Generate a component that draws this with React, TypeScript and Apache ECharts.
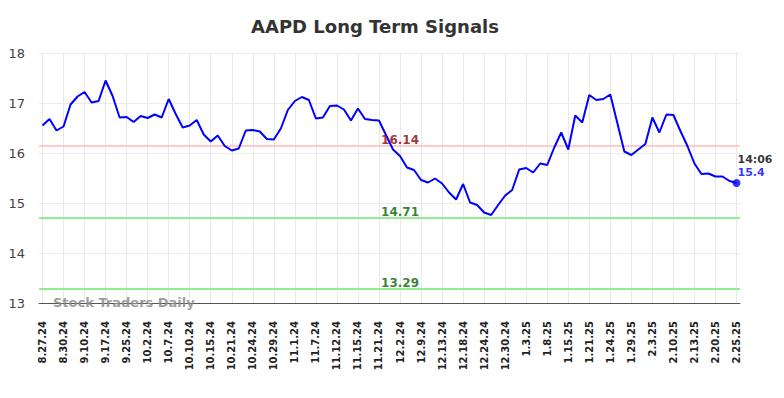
import React, { useEffect, useRef } from "react";
import * as echarts from "echarts";

const tickLabels = [
  "8.27.24", "8.30.24", "9.10.24", "9.17.24", "9.25.24", "10.2.24", "10.7.24",
  "10.10.24", "10.15.24", "10.21.24", "10.24.24", "10.29.24", "11.1.24", "11.7.24",
  "11.12.24", "11.15.24", "11.21.24", "12.2.24", "12.9.24", "12.13.24", "12.18.24",
  "12.24.24", "12.30.24", "1.3.25", "1.8.25", "1.15.25", "1.21.25", "1.24.25",
  "1.29.25", "2.3.25", "2.10.25", "2.13.25", "2.20.25", "2.25.25",
];

const prices = [
  16.55, 16.68, 16.45, 16.53, 16.97, 17.13, 17.22, 17.01, 17.04, 17.45,
  17.14, 16.71, 16.72, 16.62, 16.74, 16.70, 16.77, 16.71, 17.08, 16.78,
  16.51, 16.55, 16.66, 16.37, 16.23, 16.35, 16.14, 16.05, 16.09, 16.45,
  16.46, 16.43, 16.28, 16.27, 16.49, 16.86, 17.04, 17.12, 17.06, 16.69,
  16.71, 16.94, 16.95, 16.87, 16.65, 16.89, 16.68, 16.66, 16.65, 16.36,
  16.07, 15.94, 15.71, 15.66, 15.46, 15.41, 15.49, 15.39, 15.21, 15.07,
  15.38, 15.01, 14.96, 14.81, 14.76, 14.96, 15.15, 15.26, 15.67, 15.70,
  15.61, 15.79, 15.76, 16.11, 16.41, 16.07, 16.75, 16.61, 17.16, 17.06,
  17.08, 17.17, 16.60, 16.03, 15.96, 16.07, 16.18, 16.71, 16.41, 16.77,
  16.76, 16.44, 16.14, 15.79, 15.58, 15.59, 15.53, 15.53, 15.44, 15.40,
];

const resistance = [16.14];
const supports = [14.71, 13.29];
const lastTime = "14:06";
const yTicks = [13, 14, 15, 16, 17, 18];

export default function App() {
  const ref = useRef<HTMLDivElement>(null);

  useEffect(() => {
    if (!ref.current) return;
    const chart = echarts.init(ref.current, null, { renderer: "svg" });

    const categories = prices.map((_, i) =>
      i % 3 === 0 ? tickLabels[i / 3] : `${tickLabels[Math.floor(i / 3)]}_${i % 3}`
    );
    const lastIdx = prices.length - 1;
    const lastVal = prices[lastIdx];
    const labelIdx = 51;

    const levels = [
      ...resistance.map((v) => ({ v, line: "#ffcccc", text: "#8b0000" })),
      ...supports.map((v) => ({ v, line: "#90ee90", text: "#006400" })),
    ];

    const option: any = {
      animation: false,
      grid: { left: 39, right: 44, top: 53, bottom: 95, containLabel: false },
      graphic: [
        {
          type: "text",
          x: 375,
          y: 26,
          style: {
            text: "AAPD Long Term Signals",
            fontFamily: "DejaVu Sans",
            fontSize: 18,
            fontWeight: "bold",
            fill: "#333",
            textAlign: "center",
            textVerticalAlign: "middle",
          },
        },
        {
          type: "text",
          x: 53,
          y: 302,
          z: 10,
          style: {
            text: "Stock Traders Daily",
            fontFamily: "DejaVu Sans",
            fontSize: 13,
            fontWeight: "bold",
            fill: "rgba(140,140,140,0.85)",
            textAlign: "left",
            textVerticalAlign: "middle",
          },
        },
      ],
      xAxis: {
        type: "category",
        data: categories,
        boundaryGap: true,
        axisLine: { show: true, lineStyle: { color: "#555", width: 1 } },
        axisTick: { show: false, interval: 2, alignWithLabel: true },
        axisLabel: {
          interval: 2,
          rotate: 90,
          margin: 18,
          fontSize: 10,
          fontWeight: "bold",
          fontFamily: "DejaVu Sans",
          color: "#222",
          formatter: (v: string) => (v.includes("_") ? "" : v),
        },
        splitLine: {
          show: true,
          interval: 2,
          alignWithLabel: true,
          lineStyle: { color: "#e8e8e8", width: 1 },
        },
      },
      yAxis: {
        type: "value",
        min: yTicks[0],
        max: yTicks[yTicks.length - 1],
        interval: 1,
        axisLine: { show: false },
        axisTick: { show: false },
        axisLabel: {
          margin: 14,
          fontSize: 13,
          fontFamily: "DejaVu Sans",
          color: "#444",
        },
        splitLine: { show: true, lineStyle: { color: "#ebebeb", width: 1 } },
      },
      series: [
        {
          type: "line",
          data: prices,
          symbol: "none",
          lineStyle: { color: "#0000ff", width: 2 },
          itemStyle: { color: "#0000ff" },
          z: 5,
          markLine: {
            silent: true,
            symbol: "none",
            label: { show: false },
            z: 2,
            data: levels.map((l) => ({
              yAxis: l.v,
              lineStyle: { color: l.line, width: 2, type: "solid" },
            })),
          },
        },
        {
          type: "scatter",
          symbolSize: 0,
          z: 6,
          data: levels.map((l) => ({
            value: [labelIdx, l.v],
            label: {
              show: true,
              position: "top",
              distance: 0,
              formatter: String(l.v.toFixed(2)),
              color: l.text,
              fontSize: 12,
              fontWeight: "bold",
              fontFamily: "DejaVu Sans",
            },
          })),
        },
        {
          type: "scatter",
          symbol: "circle",
          symbolSize: 8,
          z: 7,
          itemStyle: { color: "#0000ff" },
          data: [
            {
              value: [lastIdx, lastVal],
              label: {
                show: true,
                position: [5, -26],
                align: "left",
                verticalAlign: "top",
                formatter: `{t|${lastTime}}\n{v|${lastVal}}`,
                rich: {
                  t: {
                    fontSize: 11,
                    fontWeight: "bold",
                    fontFamily: "DejaVu Sans",
                    color: "#000",
                    lineHeight: 13,
                  },
                  v: {
                    fontSize: 11,
                    fontWeight: "bold",
                    fontFamily: "DejaVu Sans",
                    color: "#0000ff",
                    lineHeight: 13,
                  },
                },
              },
            },
          ],
        },
      ],
    };

    chart.setOption(option);
    return () => chart.dispose();
  }, []);

  return (
    <div
      ref={ref}
      style={{ position: "absolute", left: 0, top: 0, width: 784, height: 398 }}
    />
  );
}
